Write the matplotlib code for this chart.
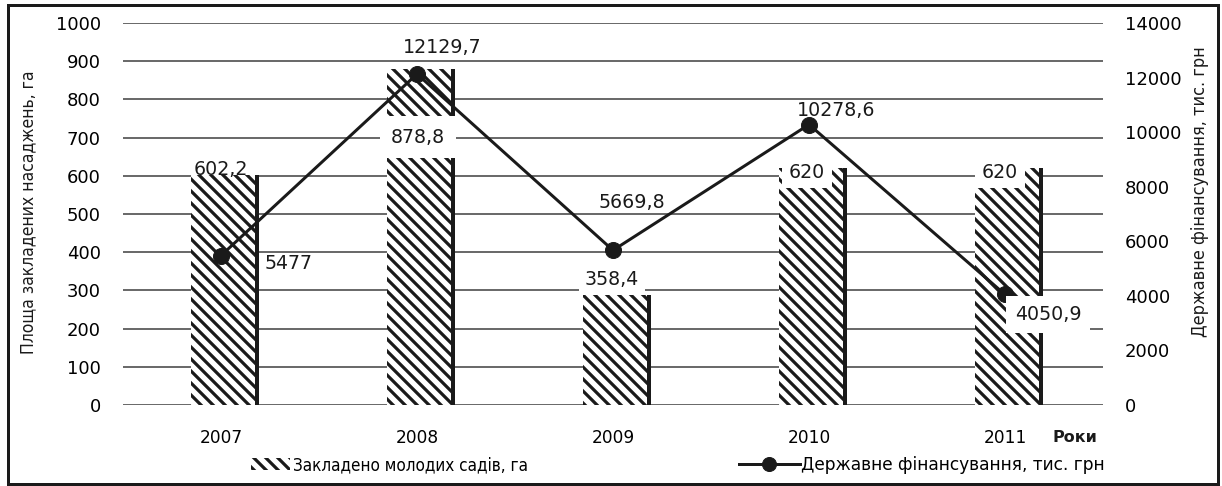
import numpy as np
import matplotlib
matplotlib.use('Agg')
import matplotlib.pyplot as plt
from matplotlib.lines import Line2D
from matplotlib.patches import Patch, Rectangle

# data
years = ['2007', '2008', '2009', '2010', '2011']
area = [602.2, 878.8, 288, 620, 620]          # bar heights as drawn in the chart
area_labels = ['602,2', '878,8', '358,4', '620', '620']
funding = [5477, 12129.7, 5669.8, 10278.6, 4050.9]
funding_labels = ['5477', '12129,7', '5669,8', '10278,6', '4050,9']

# work in pixels: at dpi 72 one point is one pixel
DPI = 72
W, H = 1222, 486
INK = '#1a1a1a'

plt.rcParams['font.family'] = ['DejaVu Sans']
plt.rcParams['hatch.linewidth'] = 3.2
plt.rcParams['hatch.color'] = INK

fig = plt.figure(figsize=(W / DPI, H / DPI), dpi=DPI)
ax = fig.add_axes([123 / W, 1 - 405 / H, 980 / W, 382 / H])
ax2 = ax.twinx()

x = np.arange(len(years))
cat = 196.0  # px per category

# bars: hatched body + thick dark right edge
ax.bar(x - 30 / cat, area, 64 / cat, align='edge', color='white',
       edgecolor=INK, linewidth=0, hatch='\\\\', zorder=2)
ax.vlines(x + 36 / cat, 0, area, color=INK, lw=4, zorder=3)

ax.set_xlim(-0.5, len(years) - 0.5)
ax.set_ylim(0, 1000)
ax.set_yticks(range(0, 1001, 100))
ax.grid(axis='y', color='#3a3a3a', lw=1.5)
ax.set_axisbelow(True)
ax.set_xticks(x)
ax.set_xticklabels(years)
ax.tick_params(axis='y', length=0, pad=22, labelsize=18)
ax.tick_params(axis='x', length=0, pad=24, labelsize=17)

ax2.plot(x, funding, color=INK, lw=3, marker='o', ms=16, zorder=4)
ax2.set_ylim(0, 14000)
ax2.set_yticks(range(0, 14001, 2000))
ax2.tick_params(axis='y', length=0, pad=22, labelsize=18)

for a in (ax, ax2):
    for s in a.spines.values():
        s.set_visible(False)

# data labels (offsets in px from the data point)
bar_offsets = [(0, 5), (1, -68), (-1, 15), (-2, -4), (-5, -4)]
bar_pads = [None, 0.6, 0.3, 0.35, 0.35]
for i, (lab, (dx, dy)) in enumerate(zip(area_labels, bar_offsets)):
    box = None
    if bar_pads[i] is not None:
        box = dict(boxstyle='square,pad=%s' % bar_pads[i], fc='white', ec='none')
    ax.annotate(lab, (x[i], area[i]), xytext=(dx, dy), textcoords='offset points',
                ha='center', va='center', fontsize=19, color=INK, bbox=box, zorder=3.5)

line_offsets = [(68, -8), (25, 27), (19, 48), (27, 14), (43, -20)]
line_boxed = [False, False, False, False, True]
for i, (lab, (dx, dy)) in enumerate(zip(funding_labels, line_offsets)):
    box = dict(boxstyle='square,pad=0.45', fc='white', ec='none') if line_boxed[i] else None
    ax2.annotate(lab, (x[i], funding[i]), xytext=(dx, dy), textcoords='offset points',
                 ha='center', va='center', fontsize=19, color=INK, bbox=box,
                 zorder=5 if line_boxed[i] else 3)

# axis titles
fig.text(28 / W, 1 - 212 / H, 'Площа закладених насаджень, га', rotation=90,
         ha='center', va='center', fontsize=17.5, fontstretch='condensed', color=INK)
fig.text(1200 / W, 1 - 192 / H, 'Державне фінансування, тис. грн', rotation=90,
         ha='center', va='center', fontsize=18, fontstretch='condensed', color=INK)
fig.text(1052 / W, 1 - 437 / H, 'Роки', ha='left', va='center', fontsize=16,
         fontweight='bold', color=INK)

# legend
h1 = Patch(facecolor='white', edgecolor=INK, linewidth=0, hatch='\\\\')
h2 = Line2D([], [], color=INK, lw=3, marker='o', ms=14)
fig.legend([h1], ['Закладено молодих садів, га'], loc='center left',
           bbox_to_anchor=(242 / W, 1 - 465 / H), frameon=False, borderpad=0,
           handlelength=2.3, handleheight=0.7, handletextpad=0.2,
           prop={'size': 17, 'stretch': 'condensed'})
fig.legend([h2], ['Державне фінансування, тис. грн'], loc='center left',
           bbox_to_anchor=(730 / W, 1 - 465 / H), frameon=False, borderpad=0,
           handlelength=3.6, handletextpad=0.1, prop={'size': 17})

# outer frame
fig.patches.append(Rectangle((8 / W, 1 - 484 / H), 1210 / W, 479 / H,
                             transform=fig.transFigure, fill=False, ec=INK, lw=3))

fig.savefig('out.png', dpi=DPI)
